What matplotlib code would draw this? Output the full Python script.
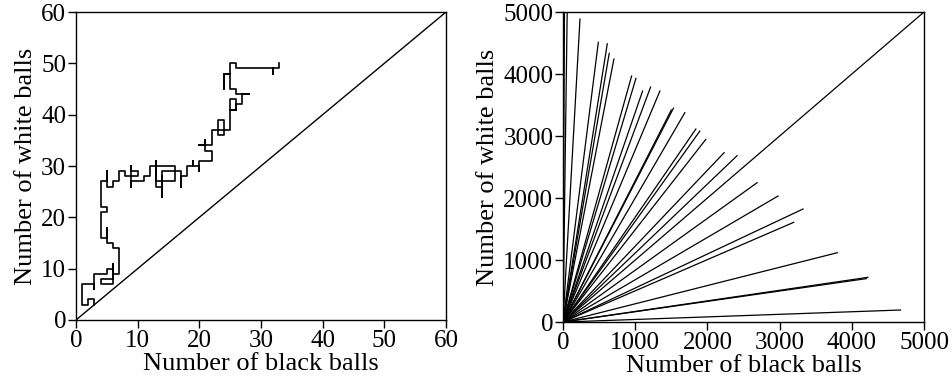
import matplotlib
matplotlib.use("Agg")
import matplotlib.pyplot as plt

plt.rcParams['font.family'] = ['Liberation Serif', 'DejaVu Serif']

# left panel: one urn path (black, white)
walk_black = [3, 3, 2, 2, 1, 1, 3, 3, 3, 5, 5, 6, 6, 4, 4, 6, 6, 6, 7, 7, 6, 6, 5, 5, 5, 4,
              4, 5, 5, 4, 4, 5, 5, 5, 6, 6, 7, 7, 8, 8, 9, 9, 9, 10, 10, 9, 9, 9,
              11, 11, 12, 12, 16, 16, 13, 13, 13, 14, 14, 14, 14, 17, 17, 17, 18,
              18, 19, 19, 19, 20, 20, 20, 22, 22, 21, 21, 21, 20, 22, 22, 24, 24,
              23, 23, 24, 24, 25, 25, 26, 26, 25, 26, 26, 27, 27, 28, 26, 26, 25,
              25, 24, 24, 24, 25, 25, 26, 26, 32, 32, 32, 33, 33]
walk_white = [3, 4, 4, 3, 3, 7, 7, 6, 9, 9, 10, 10, 7, 7, 8, 8, 11, 9, 9, 14, 14, 15, 15, 18, 16, 16,
              21, 21, 22, 22, 27, 27, 29, 26, 26, 27, 27, 29, 29, 28, 28, 30, 29, 29, 28, 28, 26, 27,
              27, 28, 28, 30, 30, 27, 27, 31, 26, 26, 28, 24, 29, 29, 26, 28, 28,
              30, 30, 31, 30, 30, 29, 31, 31, 33, 33, 35, 34, 34, 34, 37, 37, 36,
              36, 39, 39, 37, 37, 43, 43, 41, 41, 41, 42, 42, 44, 44, 44, 45, 45,
              48, 48, 45, 48, 48, 50, 50, 49, 49, 48, 49, 49, 50]

# right panel: end points of many urn paths (black, white)
end_black = [20, 60, 235, 489, 613, 640, 705, 950, 1010, 1102, 1213, 1342, 1500,
             1530, 1687, 1840, 1895, 1978, 2231, 2411, 2688, 2978, 3195, 3324,
             3799, 4200, 4223, 4675]
end_white = [5000, 5200, 4887, 4511, 4488, 4333, 4242, 3968, 3930, 3726, 3790,
             3726, 3420, 3450, 3376, 3113, 3080, 2946, 2731, 2683, 2247, 2032,
             1608, 1823, 1118, 700, 721, 194]

fig = plt.figure(figsize=(9.52, 3.88), dpi=100)
ax1 = fig.add_axes([0.0798, 0.1753, 0.3887, 0.7937])
ax2 = fig.add_axes([0.5914, 0.170, 0.3792, 0.799])

ax1.plot(walk_black, walk_white, color='black', lw=1.2)
ax1.plot([0, 60], [0, 60], color='black', lw=1.0)
ax1.set_xlim(0, 60)
ax1.set_ylim(0, 60)
ax1.set_xticks(range(0, 61, 10))
ax1.set_yticks(range(0, 61, 10))

for b, w in zip(end_black, end_white):
    ax2.plot([0, b], [0, w], color='black', lw=0.9)
ax2.plot([0, 5000], [0, 5000], color='black', lw=0.9)
ax2.set_xlim(0, 5000)
ax2.set_ylim(0, 5000)
ax2.set_xticks(range(0, 5001, 1000))
ax2.set_yticks(range(0, 5001, 1000))

for ax in (ax1, ax2):
    ax.set_xlabel('Number of black balls', fontsize=19, labelpad=1)
    ax.set_ylabel('Number of white balls', fontsize=19, labelpad=3)
    ax.tick_params(direction='out', length=6, width=1, labelsize=18, pad=1)
    for s in ax.spines.values():
        s.set_linewidth(1.0)

fig.savefig('out.png', dpi=100)
